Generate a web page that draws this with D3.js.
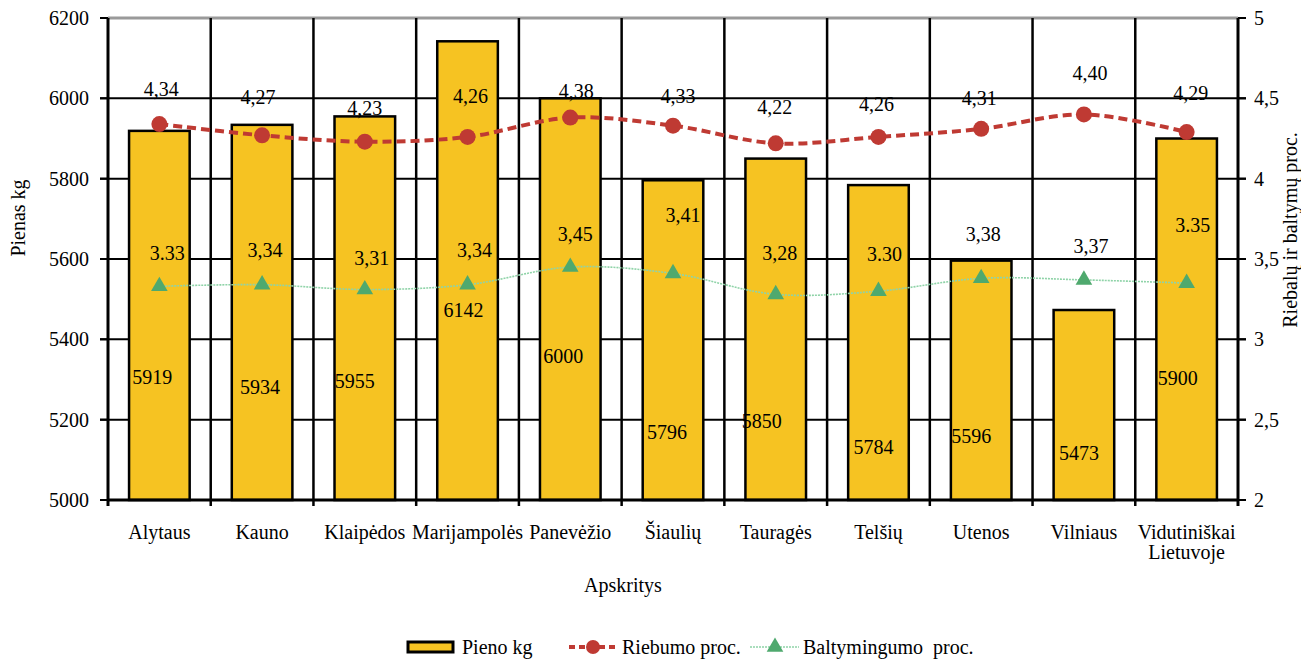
<!DOCTYPE html>
<html lang="lt">
<head>
    <meta charset="UTF-8">
    <title>Pienas ir sudėtis pagal apskritis</title>
    <style>
        body { margin: 0; background: #fff; }
    </style>
</head>
<body>
    <div id="container"></div>

    <script type="text/javascript" src="https://d3js.org/d3.v7.min.js"></script>
    <script type="text/javascript">
        // chart data
        var categories = ["Alytaus", "Kauno", "Klaipėdos", "Marijampolės", "Panevėžio", "Šiaulių",
            "Tauragės", "Telšių", "Utenos", "Vilniaus", "Vidutiniškai\nLietuvoje"];
        var milkKg = [5919, 5934, 5955, 6142, 6000, 5796, 5850, 5784, 5596, 5473, 5900];
        var fatPct = [4.34, 4.27, 4.23, 4.26, 4.38, 4.33, 4.22, 4.26, 4.31, 4.40, 4.29];
        var proteinPct = [3.33, 3.34, 3.31, 3.34, 3.45, 3.41, 3.28, 3.30, 3.38, 3.37, 3.35];
        // labels as printed in the original (mixed decimal marks)
        var fatLabels = ["4,34", "4,27", "4,23", "4,26", "4,38", "4,33", "4,22", "4,26", "4,31", "4,40", "4,29"];
        var proteinLabels = ["3.33", "3,34", "3,31", "3,34", "3,45", "3,41", "3,28", "3.30", "3,38", "3,37", "3.35"];
        var leftTicks = [5000, 5200, 5400, 5600, 5800, 6000, 6200];
        var rightTicks = [2, 2.5, 3, 3.5, 4, 4.5, 5];

        // hand placed label offsets (layout only)
        var fatLabelDx = [2, -4, 0, 3, 6, 5, -1, -2, -2, 6, 4];
        var fatLabelDy = [-35, -38, -34, -41, -27, -30, -36, -33, -31, -41, -39];
        var protLabelDx = [8, 3, 7, 7, 5, 10, 4, 6, 2, 7, 6];
        var protLabelDy = [-33, -35, -32, -35, -33, -58, -41, -37, -44, -34, -58];
        var barLabelDx = [-7, -2, -10, -4, -7, -6, -14, -5, -10, -5, -9];
        var barLabelDy = [246, 262, 265, 269, 258, 252, 262, 262, 175, 143, 239];

        var W = 1301, H = 659;
        var L = 108, R = 1238, T = 18, B = 500;
        var barColor = "#F6C322", fatColor = "#BF3A33", protColor = "#4FA96E";
        var serif = "'Liberation Serif', 'Times New Roman', Times, serif";

        var svg = d3.select("#container").append("svg")
            .attr("width", W).attr("height", H)
            .attr("font-family", serif)
            .style("font-family", serif);

        var x = d3.scaleBand().domain(categories).range([L, R]).padding(0);
        var y = d3.scaleLinear().domain([5000, 6200]).range([B, T]);
        var y2 = d3.scaleLinear().domain([2, 5]).range([B, T]);
        var cx = function(i) { return x(categories[i]) + x.bandwidth() / 2; };
        var barW = x.bandwidth() * 0.59;

        // horizontal grid
        svg.append("g").selectAll("line")
            .data(leftTicks.slice(1, -1))
            .enter().append("line")
            .attr("x1", L - 8).attr("x2", R + 8)
            .attr("y1", function(d) { return y(d); })
            .attr("y2", function(d) { return y(d); })
            .attr("stroke", "#000").attr("stroke-width", 2);

        svg.append("line")
            .attr("x1", L).attr("x2", R)
            .attr("y1", y(6200)).attr("y2", y(6200))
            .attr("stroke", "#9a9a9a").attr("stroke-width", 3);

        // vertical category boundaries
        var bounds = d3.range(categories.length + 1).map(function(i) { return L + i * x.step(); });
        svg.append("g").selectAll("line")
            .data(bounds)
            .enter().append("line")
            .attr("x1", function(d) { return d; }).attr("x2", function(d) { return d; })
            .attr("y1", T).attr("y2", B + 6)
            .attr("stroke", "#000")
            .attr("stroke-width", function(d, i) { return (i === 0 || i === bounds.length - 1) ? 3 : 2.5; });

        // ticks on both sides
        svg.append("g").selectAll("line")
            .data(leftTicks)
            .enter().append("line")
            .attr("x1", L - 8).attr("x2", L)
            .attr("y1", function(d) { return y(d); }).attr("y2", function(d) { return y(d); })
            .attr("stroke", "#000").attr("stroke-width", 2);
        svg.append("g").selectAll("line")
            .data(rightTicks)
            .enter().append("line")
            .attr("x1", R).attr("x2", R + 8)
            .attr("y1", function(d) { return y2(d); }).attr("y2", function(d) { return y2(d); })
            .attr("stroke", "#000").attr("stroke-width", 2);

        // bars
        svg.append("g").selectAll("rect")
            .data(milkKg)
            .enter().append("rect")
            .attr("x", function(d, i) { return cx(i) - barW / 2; })
            .attr("y", function(d) { return y(d); })
            .attr("width", barW)
            .attr("height", function(d) { return B - y(d); })
            .attr("fill", barColor)
            .attr("stroke", "#000").attr("stroke-width", 2.5);

        // x axis baseline
        svg.append("line")
            .attr("x1", L).attr("x2", R).attr("y1", B).attr("y2", B)
            .attr("stroke", "#000").attr("stroke-width", 3);

        // tick labels
        svg.append("g").selectAll("text")
            .data(leftTicks)
            .enter().append("text")
            .attr("x", 89).attr("y", function(d) { return y(d); })
            .attr("dy", "0.35em").attr("text-anchor", "end")
            .style("font-size", "20px")
            .text(function(d) { return d; });
        svg.append("g").selectAll("text")
            .data(rightTicks)
            .enter().append("text")
            .attr("x", 1254).attr("y", function(d) { return y2(d); })
            .attr("dy", "0.35em")
            .style("font-size", "20px")
            .text(function(d) { return String(d).replace(".", ","); });

        var catText = svg.append("g").selectAll("text")
            .data(categories)
            .enter().append("text")
            .attr("x", function(d, i) { return cx(i); })
            .attr("y", 539)
            .attr("text-anchor", "middle")
            .style("font-size", "20px");
        catText.each(function(d) {
            var lines = d.split("\n");
            var t = d3.select(this);
            lines.forEach(function(s, k) {
                t.append("tspan").attr("x", t.attr("x")).attr("dy", k === 0 ? 0 : 20).text(s);
            });
        });

        // axis titles
        svg.append("text")
            .attr("x", 623).attr("y", 592)
            .attr("text-anchor", "middle").style("font-size", "20px")
            .text("Apskritys");
        svg.append("text")
            .attr("transform", "translate(25,218) rotate(-90)")
            .attr("text-anchor", "middle").style("font-size", "20px")
            .text("Pienas kg");
        svg.append("text")
            .attr("transform", "translate(1297,230) rotate(-90)")
            .attr("text-anchor", "middle").style("font-size", "20px")
            .text("Riebalų ir baltymų proc.");

        // fat line
        var curve = d3.curveCatmullRom.alpha(0.5);
        var pctLine = d3.line()
            .x(function(d, i) { return cx(i); })
            .y(function(d) { return y2(d); })
            .curve(curve);
        svg.append("path")
            .datum(fatPct)
            .attr("d", pctLine)
            .attr("fill", "none")
            .attr("stroke", fatColor)
            .attr("stroke-width", 4)
            .attr("stroke-dasharray", "9,5");

        // protein line
        svg.append("path")
            .datum(proteinPct)
            .attr("d", pctLine)
            .attr("fill", "none")
            .attr("stroke", "#8fd3a8")
            .attr("stroke-width", 1.6)
            .attr("stroke-dasharray", "2,1");

        svg.append("g").selectAll("circle")
            .data(fatPct)
            .enter().append("circle")
            .attr("cx", function(d, i) { return cx(i); })
            .attr("cy", function(d) { return y2(d); })
            .attr("r", 8)
            .attr("fill", fatColor);

        var tri = d3.symbol().type(d3.symbolTriangle).size(120);
        svg.append("g").selectAll("path")
            .data(proteinPct)
            .enter().append("path")
            .attr("d", tri)
            .attr("transform", function(d, i) { return "translate(" + cx(i) + "," + y2(d) + ")"; })
            .attr("fill", protColor);

        // data labels
        svg.append("g").selectAll("text")
            .data(milkKg)
            .enter().append("text")
            .attr("x", function(d, i) { return cx(i) + barLabelDx[i]; })
            .attr("y", function(d, i) { return y(d) + barLabelDy[i]; })
            .attr("dy", "0.35em").attr("text-anchor", "middle")
            .style("font-size", "20px")
            .text(function(d) { return d; });
        svg.append("g").selectAll("text")
            .data(fatPct)
            .enter().append("text")
            .attr("x", function(d, i) { return cx(i) + fatLabelDx[i]; })
            .attr("y", function(d, i) { return y2(d) + fatLabelDy[i]; })
            .attr("dy", "0.35em").attr("text-anchor", "middle")
            .style("font-size", "20px")
            .text(function(d, i) { return fatLabels[i]; });
        svg.append("g").selectAll("text")
            .data(proteinPct)
            .enter().append("text")
            .attr("x", function(d, i) { return cx(i) + protLabelDx[i]; })
            .attr("y", function(d, i) { return y2(d) + protLabelDy[i]; })
            .attr("dy", "0.35em").attr("text-anchor", "middle")
            .style("font-size", "20px")
            .text(function(d, i) { return proteinLabels[i]; });

        // legend
        var lg = svg.append("g").attr("transform", "translate(0,647)");
        lg.append("rect")
            .attr("x", 408).attr("y", -5).attr("width", 45).attr("height", 10)
            .attr("fill", barColor).attr("stroke", "#000").attr("stroke-width", 3);
        lg.append("text").attr("x", 462).attr("dy", "0.35em").style("font-size", "20px").text("Pieno kg");

        lg.append("line").attr("x1", 569).attr("x2", 617)
            .attr("stroke", fatColor).attr("stroke-width", 4).attr("stroke-dasharray", "6,4");
        lg.append("circle").attr("cx", 593).attr("r", 7).attr("fill", fatColor);
        lg.append("text").attr("x", 622).attr("dy", "0.35em").style("font-size", "20px").text("Riebumo proc.");

        lg.append("line").attr("x1", 750).attr("x2", 799)
            .attr("stroke", "#8fd3a8").attr("stroke-width", 1.6).attr("stroke-dasharray", "2,1");
        lg.append("path").attr("d", tri).attr("transform", "translate(775,0)").attr("fill", protColor);
        lg.append("text").attr("x", 803).attr("dy", "0.35em").style("font-size", "20px")
            .attr("xml:space", "preserve").text("Baltymingumo  proc.");
    </script>
</body>
</html>
